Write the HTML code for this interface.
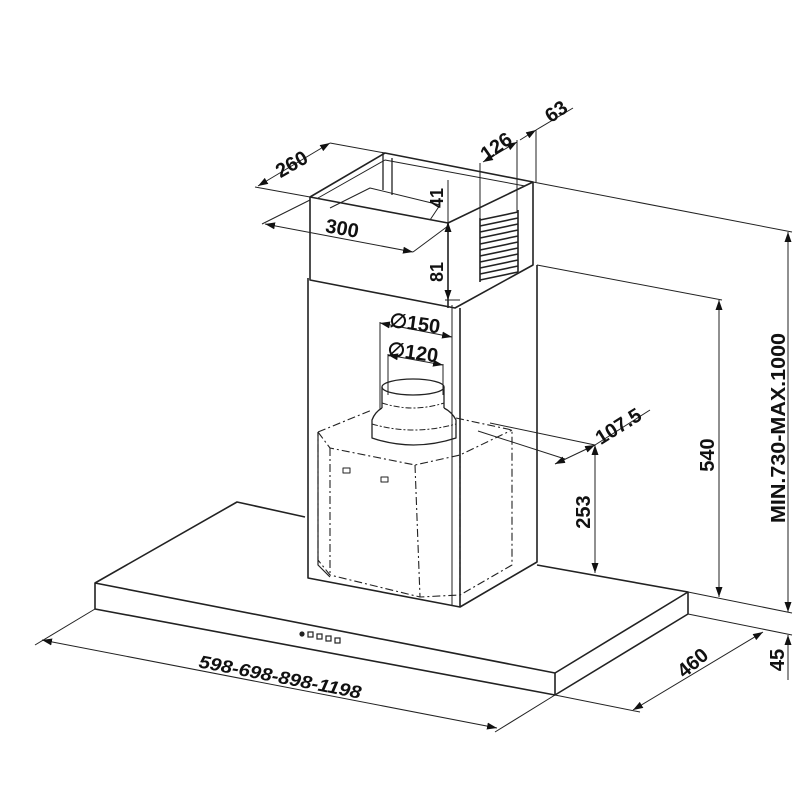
<!DOCTYPE html>
<html><head><meta charset="utf-8"><style>
html,body{margin:0;padding:0;background:#fff}
svg{display:block}
text{font-family:"Liberation Sans",Arial,sans-serif;font-weight:bold;fill:#111;text-anchor:middle}
</style></head><body>
<svg width="800" height="800" viewBox="0 0 800 800" xmlns="http://www.w3.org/2000/svg">
<defs>
<marker id="a" viewBox="0 0 10 10" refX="10" refY="5" markerWidth="10" markerHeight="10" orient="auto-start-reverse" markerUnits="userSpaceOnUse"><path d="M0,1.5 L10,5 L0,8.5 z" fill="#111"/></marker>
</defs>
<g stroke="#222" fill="none" stroke-width="1.6" stroke-linejoin="round">
<!-- canopy -->
<path d="M95,583 L237,502 L305,517"/>
<path d="M537,565 L688,592 L555,673 L95,583 L95,609 L555,695 L688,614 L688,592"/>
<line x1="555" y1="673" x2="555" y2="695"/>
<!-- chimney lower -->
<path d="M308,278 L308,578 L460,607 L537,562 L537,265"/>
<line x1="452" y1="305" x2="452" y2="605" stroke-width="1"/>
<line x1="460" y1="308" x2="460" y2="607"/>
<!-- top box -->
<path d="M310,197 L385,153 L533,182 L448,223 Z"/>
<path d="M310,197 L310,280 L455,308 L533,265 L533,182"/>
<line x1="448" y1="223" x2="448" y2="308"/>
<path d="M318,198 L385,160 L525,186" stroke-width="1"/>
<path d="M330,208 L370,188 L440,205 L430,220" stroke-width="1"/>
<path d="M383,153 L383,190 M392,158 L392,195" stroke-width="1.3"/>
<!-- grille -->
<g stroke-width="1.6">
<path d="M480,220 L518,212 M480,226 L518,218 M480,232 L518,224 M480,238 L518,230 M480,244 L518,236 M480,250 L518,242 M480,256 L518,248 M480,262 L518,254 M480,268 L518,260 M480,274 L518,266 M480,280 L518,272"/>
<path d="M480,218 L480,282 M518,210 L518,272"/>
</g>
<!-- duct -->
<ellipse cx="413" cy="387" rx="31" ry="8" stroke-width="1.3"/>
<path d="M382,387 L382,408 M444,387 L444,408" stroke-width="1.3"/>
<path d="M382,408 Q375,412 372,420 L372,438 Q413,452 456,438 L456,420 Q452,412 444,408" stroke-width="1.3"/>
<path d="M382,403 Q413,413 444,403" stroke-width="1" stroke-dasharray="6,2,2,2"/>
<path d="M372,424 Q413,436 456,424" stroke-width="1" stroke-dasharray="6,2,2,2"/>
<!-- motor box dashed -->
<g stroke-width="1.1" stroke-dasharray="8,3,2,3">
<path d="M318,432 L372,410 M456,418 L512,430 L512,565 L460,595 L420,597 L330,575 L318,560 L318,432"/>
<path d="M318,432 L330,448 L415,465 L460,455 L512,430"/>
<path d="M330,448 L330,575 M415,465 L420,597 M460,455 L460,595"/>
</g>
<path d="M318,432 L318,565 L330,577" stroke-width="1.2"/>
<rect x="343" y="468" width="7" height="5" stroke-width="1"/>
<rect x="381" y="477" width="7" height="5" stroke-width="1"/>
</g>
<!-- buttons -->
<g fill="none" stroke="#222" stroke-width="1.2">
<circle cx="302" cy="634" r="2" fill="#222"/>
<rect x="308" y="632" width="5" height="5"/><rect x="317" y="634" width="5" height="5"/><rect x="326" y="636" width="5" height="5"/><rect x="335" y="638" width="5" height="5"/>
</g>
<!-- dimension lines -->
<g stroke="#222" stroke-width="1" fill="none">
<line x1="255" y1="187" x2="310" y2="197"/>
<line x1="330" y1="143" x2="385" y2="153"/>
<line x1="258" y1="186" x2="330" y2="143" marker-start="url(#a)" marker-end="url(#a)"/>
<line x1="262" y1="224" x2="310" y2="200"/>
<line x1="413" y1="252" x2="448" y2="226"/>
<line x1="265" y1="224" x2="413" y2="252" marker-start="url(#a)" marker-end="url(#a)"/>
<line x1="480" y1="163" x2="480" y2="220"/>
<line x1="517" y1="140" x2="517" y2="212"/>
<line x1="536" y1="130" x2="536" y2="182"/>
<line x1="483" y1="162" x2="517" y2="142" marker-start="url(#a)" marker-end="url(#a)"/>
<line x1="536" y1="130" x2="573" y2="108"/>
<line x1="520" y1="140" x2="536" y2="130" marker-end="url(#a)"/>
<line x1="448" y1="180" x2="448" y2="300"/>
<line x1="448" y1="222" x2="448" y2="236" marker-start="url(#a)"/>
<line x1="448" y1="246" x2="448" y2="300" marker-end="url(#a)"/>
<line x1="445" y1="300" x2="460" y2="300"/>
<line x1="380" y1="322" x2="380" y2="410"/>
<line x1="452" y1="335" x2="452" y2="410"/>
<line x1="388" y1="354" x2="388" y2="395"/>
<line x1="443" y1="364" x2="443" y2="395"/>
<line x1="380" y1="323" x2="452" y2="337" marker-start="url(#a)" marker-end="url(#a)"/>
<line x1="388" y1="355" x2="443" y2="365" marker-start="url(#a)" marker-end="url(#a)"/>
<line x1="490" y1="423" x2="595" y2="445"/>
<line x1="478" y1="431" x2="565" y2="459"/>
<line x1="595" y1="445" x2="650" y2="410"/>
<line x1="555" y1="464" x2="595" y2="445" marker-start="url(#a)" marker-end="url(#a)"/>
<line x1="595" y1="445" x2="595" y2="573" marker-start="url(#a)" marker-end="url(#a)"/>
<line x1="537" y1="265" x2="722" y2="300"/>
<line x1="719" y1="300" x2="719" y2="597" marker-start="url(#a)" marker-end="url(#a)"/>
<line x1="533" y1="182" x2="792" y2="232"/>
<line x1="788" y1="232" x2="788" y2="612" marker-start="url(#a)" marker-end="url(#a)"/>
<line x1="688" y1="592" x2="792" y2="613"/>
<line x1="688" y1="614" x2="792" y2="635"/>
<line x1="788" y1="635" x2="788" y2="680" marker-start="url(#a)"/>
<line x1="555" y1="695" x2="640" y2="712"/>
<line x1="633" y1="710" x2="763" y2="632" marker-start="url(#a)" marker-end="url(#a)"/>
<line x1="95" y1="609" x2="35" y2="645"/>
<line x1="555" y1="695" x2="495" y2="732"/>
<line x1="42" y1="640" x2="497" y2="728" marker-start="url(#a)" marker-end="url(#a)"/>
</g>
<!-- labels -->
<g font-size="20">
<text transform="translate(295,170) rotate(-30)">260</text>
<text transform="translate(341,235) rotate(10)">300</text>
<text transform="translate(500,152) rotate(-35)">126</text>
<text transform="translate(560,117) rotate(-35)">63</text>
<text transform="translate(443,198) rotate(-90)" font-size="18">41</text>
<text transform="translate(443,272) rotate(-90)" font-size="18">81</text>
<text transform="translate(414,330) rotate(8)">∅150</text>
<text transform="translate(412,359) rotate(8)">∅120</text>
<text transform="translate(622,432) rotate(-32)">107.5</text>
<text transform="translate(590,512) rotate(-90)">253</text>
<text transform="translate(714,455) rotate(-90)">540</text>
<text transform="translate(785,428) rotate(-90)" textLength="190" lengthAdjust="spacingAndGlyphs">MIN.730-MAX.1000</text>
<text transform="translate(784,660) rotate(-90)">45</text>
<text transform="translate(697,668) rotate(-40)">460</text>
<text transform="translate(279,683) rotate(11)" font-style="italic" font-size="18" textLength="165" lengthAdjust="spacingAndGlyphs">598-698-898-1198</text>
</g>
</svg>
</body></html>
